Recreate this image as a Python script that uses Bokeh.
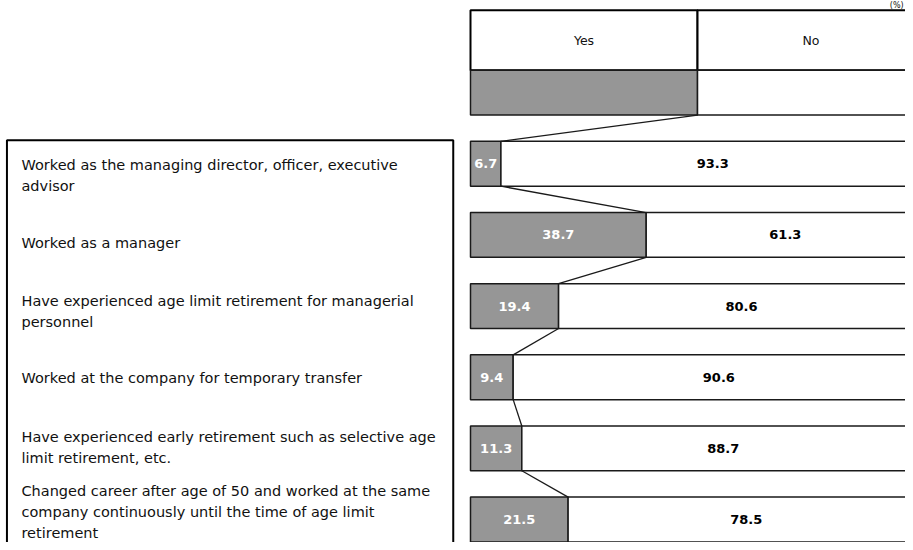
from bokeh.plotting import figure
from bokeh.models import Range1d, ColumnDataSource
from bokeh.core.properties import value
from bokeh.embed import file_html
from bokeh.resources import INLINE

# ---- data ----
categories = [
    "Worked as the managing director, officer, executive\nadvisor",
    "Worked as a manager",
    "Have experienced age limit retirement for managerial\npersonnel",
    "Worked at the company for temporary transfer",
    "Have experienced early retirement such as selective age\nlimit retirement, etc.",
    "Changed career after age of 50 and worked at the same\ncompany continuously until the time of age limit\nretirement",
]
yes_values = [6.7, 38.7, 19.4, 9.4, 11.3, 21.5]
no_values = [93.3, 61.3, 80.6, 90.6, 88.7, 78.5]
header_labels = ["Yes", "No"]
header_split = [50, 50]
unit_label = "(%)"

# ---- layout (styling only) ----
GRAY = "#969696"
EDGE = "#1a1a1a"
BAR_H = 0.63
LINE_STEP = 0.295
label_first_line = [0.014, 1.112, 1.929, 3.014, 3.837, 4.60]  # row units
FONT = "DejaVu Sans"

p = figure(width=905, height=542, output_backend="svg", toolbar_location=None,
           x_range=Range1d(-103.52, 95.81), y_range=Range1d(5.323, -2.295),
           min_border=0)
p.xaxis.visible = False
p.yaxis.visible = False
p.grid.visible = False
p.outline_line_color = None
p.background_fill_color = "white"

n = len(categories)
rows = list(range(n))

# left label box
p.quad(left=[-102.1], right=[-3.8], top=[-0.332], bottom=[5.6],
       fill_color=None, line_color="black", line_width=2)

# header box
hdr_top, hdr_bot = -2.157, -1.316
p.quad(left=[0, header_split[0]], right=[header_split[0], 100], top=[hdr_top] * 2,
       bottom=[hdr_bot] * 2, fill_color="white", line_color="black", line_width=2)
p.text(x=[header_split[0] / 2, header_split[0] + header_split[1] / 2],
       y=[(hdr_top + hdr_bot) / 2] * 2, text=header_labels,
       text_font=value(FONT), text_font_size="12.5px", text_align="center",
       text_baseline="middle", text_color="#111111")
p.text(x=[95.4], y=[-2.295], text=[unit_label], text_font=value(FONT), text_font_size="8px",
       text_align="right", text_baseline="top", text_color="#111111")

# header split bar
p.quad(left=[0, header_split[0]], right=[header_split[0], 100],
       top=[-1 - BAR_H / 2] * 2, bottom=[-1 + BAR_H / 2] * 2,
       fill_color=[GRAY, "white"], line_color=EDGE, line_width=1.5)

# bars
no_right = [y + v for y, v in zip(yes_values, no_values)]
src = ColumnDataSource(dict(row=rows, yes=yes_values, no=no_values, zero=[0] * n,
                            total=no_right,
                            top=[r - BAR_H / 2 for r in rows],
                            bottom=[r + BAR_H / 2 for r in rows]))
p.quad(left="zero", right="yes", top="top", bottom="bottom", source=src,
       fill_color=GRAY, line_color=EDGE, line_width=1.5)
p.quad(left="yes", right="total", top="top", bottom="bottom", source=src,
       fill_color="white", line_color=EDGE, line_width=1.5)

# connector lines
prev_x, prev_y = header_split[0], -1 + BAR_H / 2
for r, v in zip(rows, yes_values):
    p.line(x=[prev_x, v], y=[prev_y, r - BAR_H / 2], line_color=EDGE, line_width=1.3)
    prev_x, prev_y = v, r + BAR_H / 2

# value labels
p.text(x=[v / 2 for v in yes_values], y=rows, text=[f"{v:.1f}" for v in yes_values],
       text_font=value(FONT), text_font_size="13px", text_font_style="bold",
       text_align="center", text_baseline="middle", text_color="white")
p.text(x=[y + v / 2 for y, v in zip(yes_values, no_values)], y=rows,
       text=[f"{v:.1f}" for v in no_values],
       text_font=value(FONT), text_font_size="13px", text_font_style="bold",
       text_align="center", text_baseline="middle", text_color="black")

# category labels
lx, ly, lt = [], [], []
for cat, y0 in zip(categories, label_first_line):
    for k, line in enumerate(cat.split("\n")):
        lx.append(-98.9)
        ly.append(y0 + k * LINE_STEP)
        lt.append(line)
p.text(x=lx, y=ly, text=lt, text_font=value(FONT), text_font_size="14.5px",
       text_align="left", text_baseline="middle", text_color="#111111")

open("out.html", "w").write(file_html(p, INLINE))
